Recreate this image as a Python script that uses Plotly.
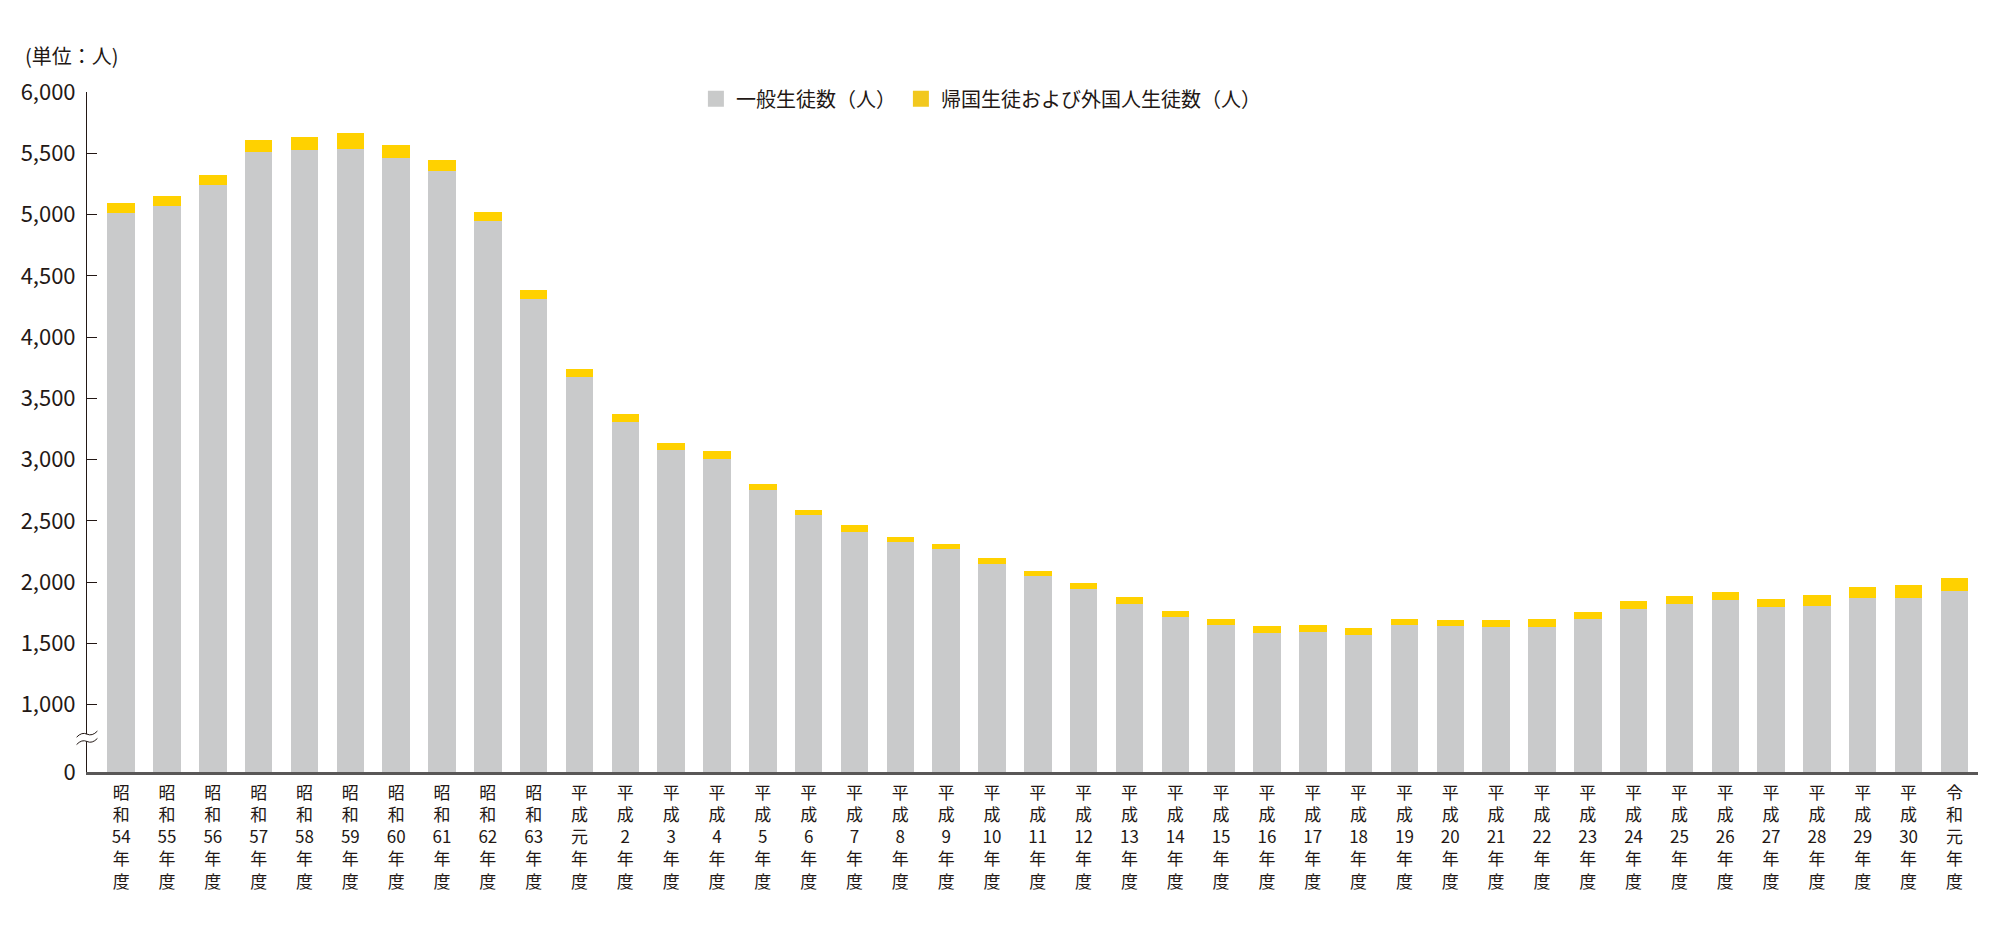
import plotly.graph_objects as go

# ---- data ----
categories = [
    "昭和54年度", "昭和55年度", "昭和56年度", "昭和57年度", "昭和58年度",
    "昭和59年度", "昭和60年度", "昭和61年度", "昭和62年度", "昭和63年度",
    "平成元年度", "平成2年度", "平成3年度", "平成4年度", "平成5年度",
    "平成6年度", "平成7年度", "平成8年度", "平成9年度", "平成10年度",
    "平成11年度", "平成12年度", "平成13年度", "平成14年度", "平成15年度",
    "平成16年度", "平成17年度", "平成18年度", "平成19年度", "平成20年度",
    "平成21年度", "平成22年度", "平成23年度", "平成24年度", "平成25年度",
    "平成26年度", "平成27年度", "平成28年度", "平成29年度", "平成30年度",
    "令和元年度",
]
general_students = [
    5009, 5070, 5243, 5510, 5529, 5532, 5464, 5352, 4944, 4311,
    3674, 3309, 3081, 3005, 2749, 2548, 2412, 2328, 2273, 2145,
    2047, 1947, 1819, 1718, 1647, 1585, 1590, 1572, 1647, 1639,
    1637, 1631, 1702, 1781, 1822, 1854, 1797, 1808, 1867, 1873,
    1930,
]
returnee_foreign_students = [
    85, 81, 77, 101, 104, 136, 100, 92, 77, 76,
    65, 66, 57, 68, 52, 43, 57, 40, 38, 49,
    47, 43, 60, 47, 52, 57, 60, 53, 52, 52,
    57, 68, 57, 62, 62, 63, 68, 90, 93, 106,
    101,
]
series_names = ["一般生徒数（人）", "帰国生徒および外国人生徒数（人）"]
y_tick_values = [1000, 1500, 2000, 2500, 3000, 3500, 4000, 4500, 5000, 5500, 6000]
y_axis_bottom = 451  # broken axis: "0" sits at the bottom of the visible scale

# ---- styling ----
TXT = "#231815"
FONT = "Noto Sans CJK JP"
GRAY = "#c9cacb"
YELLOW = "#ffd100"


def vertical_label(s):
    # stack characters vertically; keep digit runs together
    parts, buf = [], ""
    for ch in s:
        if ch.isdigit():
            buf += ch
        else:
            if buf:
                parts.append(buf)
                buf = ""
            parts.append(ch)
    if buf:
        parts.append(buf)
    return "<br>".join(parts)


tick_labels = [vertical_label(c) for c in categories]

fig = go.Figure()
fig.add_trace(go.Bar(
    x=categories, y=general_students, name=series_names[0],
    marker=dict(color=GRAY, line=dict(width=0)), width=0.6, showlegend=False,
))
fig.add_trace(go.Bar(
    x=categories, y=returnee_foreign_students, name=series_names[1],
    marker=dict(color=YELLOW, line=dict(width=0)), width=0.6, showlegend=False,
))
# legend proxies (larger square swatches)
fig.add_trace(go.Scatter(
    x=[None], y=[None], mode="markers", name=series_names[0],
    marker=dict(symbol="square", size=16, color="#c9caca"),
))
fig.add_trace(go.Scatter(
    x=[None], y=[None], mode="markers", name=series_names[1],
    marker=dict(symbol="square", size=16, color="#f2c81e"),
))

yticks = [y_axis_bottom] + y_tick_values
ytext = ["0"] + [f"{v:,}" for v in y_tick_values]

fig.update_layout(
    width=2000, height=934,
    margin=dict(l=87, r=22, t=92, b=162),
    paper_bgcolor="white", plot_bgcolor="white",
    barmode="stack", bargap=0.4,
    font=dict(family=FONT, color=TXT, size=20),
    legend=dict(
        orientation="h", x=0.322, y=0.99, xanchor="left", yanchor="middle",
        font=dict(size=20, color=TXT, family=FONT), itemsizing="trace",
        bgcolor="rgba(0,0,0,0)", traceorder="normal",
    ),
    xaxis=dict(
        type="category", categoryorder="array", categoryarray=categories,
        tickmode="array", tickvals=categories, ticktext=tick_labels,
        range=[-0.746, len(categories) - 0.485],
        showline=True, linecolor="#595757", linewidth=2.5,
        ticks="", showgrid=False, zeroline=False,
        tickfont=dict(size=17, color=TXT, family=FONT),
        ticklabelstandoff=4,
    ),
    yaxis=dict(
        range=[y_axis_bottom, 6000],
        tickmode="array", tickvals=yticks, ticktext=ytext,
        showline=True, linecolor=TXT, linewidth=1,
        ticks="inside", ticklen=10, tickwidth=1, tickcolor=TXT,
        showgrid=False, zeroline=False,
        tickfont=dict(size=22, color=TXT, family=FONT),
        ticklabelstandoff=6,
    ),
    annotations=[dict(
        text="(単位：人)", xref="paper", yref="paper", x=-0.034, y=1.054,
        xanchor="left", yanchor="middle", showarrow=False,
        font=dict(size=20, color=TXT, family=FONT),
    )],
)

# axis break marks
bc = 730
w = 0.0055
d = 30
fig.add_shape(type="rect", xref="paper", yref="y", x0=-0.002, x1=0.002,
              y0=bc - d, y1=bc + d, fillcolor="white", line=dict(width=0), layer="above")
for off in (-d, d):
    y0 = bc + off
    fig.add_shape(
        type="path", xref="paper", yref="y",
        path=f"M {-w},{y0 - 25} Q {-w/2},{y0 + 20} 0,{y0} T {w},{y0 + 25}",
        line=dict(color=TXT, width=1), layer="above",
    )

fig.write_html("out.html")
